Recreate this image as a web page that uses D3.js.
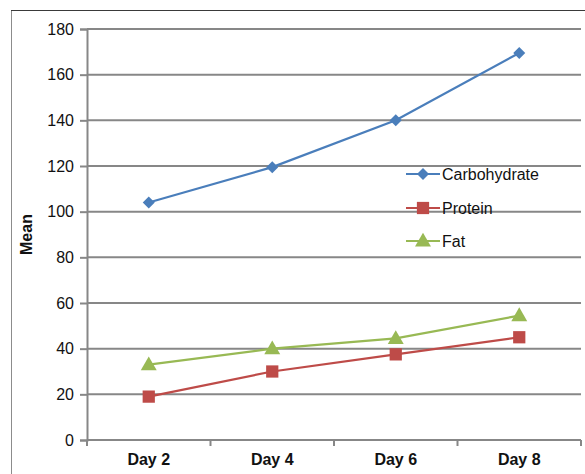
<!DOCTYPE html>
<html>
<head>
<meta charset="utf-8">
<script src="https://cdn.jsdelivr.net/npm/d3@7"></script>
<style>
  html, body { margin: 0; padding: 0; background: #fff; }
  svg { display: block; font-family: Arial, "Liberation Sans", sans-serif; }
</style>
</head>
<body>
<svg id="chart" width="585" height="474"></svg>
<script>
// Mean intake per day, by macronutrient
const days = ["Day 2", "Day 4", "Day 6", "Day 8"];
const carbohydrate = [104, 119.5, 140, 169.5];
const protein = [19, 30, 37.5, 45];
const fat = [33, 40, 44.5, 54.5];
const yTicks = [0, 20, 40, 60, 80, 100, 120, 140, 160, 180];

const seriesList = [
  { name: "Carbohydrate", values: carbohydrate, color: "#4a7ebb", shape: "diamond" },
  { name: "Protein", values: protein, color: "#be4b48", shape: "square" },
  { name: "Fat", values: fat, color: "#98b954", shape: "triangle" }
];

const svg = d3.select("#chart");
const plot = { left: 87, right: 581, top: 29, bottom: 440 };
const FONT = "Arial, 'Liberation Sans', sans-serif";

// outer frame
svg.append("path")
  .attr("d", "M11.5,474 L11.5,10.5 L585,10.5")
  .attr("fill", "none").attr("stroke", "#8c8c8c").attr("stroke-width", 1);
svg.append("line")
  .attr("x1", 11).attr("x2", 585).attr("y1", 10.5).attr("y2", 10.5)
  .attr("stroke", "#3a3a3a").attr("stroke-width", 1);

const x = d3.scaleBand().domain(days).range([plot.left, plot.right]);
const y = d3.scaleLinear().domain([0, 180]).range([plot.bottom, plot.top]);

// horizontal gridlines
svg.append("g").selectAll("line")
  .data(yTicks.filter(t => t > 0))
  .join("line")
  .attr("x1", plot.left).attr("x2", plot.right)
  .attr("y1", d => y(d)).attr("y2", d => y(d))
  .attr("stroke", "#878787").attr("stroke-width", 2);

// y axis
const yAxis = svg.append("g")
  .attr("transform", `translate(${plot.left},0)`)
  .call(d3.axisLeft(y).tickValues(yTicks).tickSize(7).tickPadding(6));
yAxis.attr("font-size", 16).attr("font-family", FONT);
yAxis.select(".domain").attr("stroke", "#878787").attr("stroke-width", 2);
yAxis.selectAll(".tick line").attr("stroke", "#878787").attr("stroke-width", 2);
yAxis.selectAll(".tick text").attr("fill", "#111");

// x axis with tick marks between categories
const xAxisG = svg.append("g").attr("transform", `translate(0,${plot.bottom})`);
xAxisG.append("line")
  .attr("x1", plot.left).attr("x2", plot.right)
  .attr("stroke", "#878787").attr("stroke-width", 2);
const bounds = days.map(d => x(d)).concat([x(days[days.length - 1]) + x.bandwidth()]);
xAxisG.selectAll("line.tk").data(bounds).join("line")
  .attr("class", "tk")
  .attr("x1", d => d).attr("x2", d => d)
  .attr("y1", 0).attr("y2", 6)
  .attr("stroke", "#878787").attr("stroke-width", 2);
xAxisG.selectAll("text").data(days).join("text")
  .attr("x", d => x(d) + x.bandwidth() / 2)
  .attr("y", 25)
  .attr("text-anchor", "middle")
  .attr("font-size", 16).attr("font-weight", "bold").attr("fill", "#111")
  .text(d => d);

// y axis title
svg.append("text")
  .attr("transform", `translate(32,${(plot.top + plot.bottom) / 2}) rotate(-90)`)
  .attr("text-anchor", "middle")
  .attr("font-size", 16).attr("font-weight", "bold").attr("fill", "#111")
  .text("Mean");

const symbolFor = {
  diamond: d3.symbol().type(d3.symbolSquare).size(72),
  square: d3.symbol().type(d3.symbolSquare).size(150),
  triangle: d3.symbol().type(d3.symbolTriangle).size(110)
};
function markerTransform(shape, cx, cy) {
  if (shape === "diamond") return `translate(${cx},${cy}) rotate(45)`;
  if (shape === "triangle") return `translate(${cx},${cy + 1})`;
  return `translate(${cx},${cy})`;
}

const cx = d => x(d) + x.bandwidth() / 2;
const line = d3.line().x((v, i) => cx(days[i])).y(v => y(v));

seriesList.forEach(s => {
  const g = svg.append("g");
  g.append("path")
    .attr("d", line(s.values))
    .attr("fill", "none").attr("stroke", s.color).attr("stroke-width", 2.2);
  g.selectAll("path.m").data(s.values).join("path")
    .attr("class", "m")
    .attr("d", symbolFor[s.shape]())
    .attr("transform", (v, i) => markerTransform(s.shape, cx(days[i]), y(v)))
    .attr("fill", s.color);
});

// legend
const legend = svg.append("g");
const legendY = [174, 208, 241];
seriesList.forEach((s, i) => {
  const ly = legendY[i];
  legend.append("line")
    .attr("x1", 406).attr("x2", 440).attr("y1", ly).attr("y2", ly)
    .attr("stroke", s.color).attr("stroke-width", 2.2);
  legend.append("path")
    .attr("d", symbolFor[s.shape]())
    .attr("transform", markerTransform(s.shape, 423, ly))
    .attr("fill", s.color);
  legend.append("text")
    .attr("x", 442).attr("y", ly + 6)
    .attr("font-size", 16).attr("fill", "#111")
    .text(s.name);
});
</script>
</body>
</html>
